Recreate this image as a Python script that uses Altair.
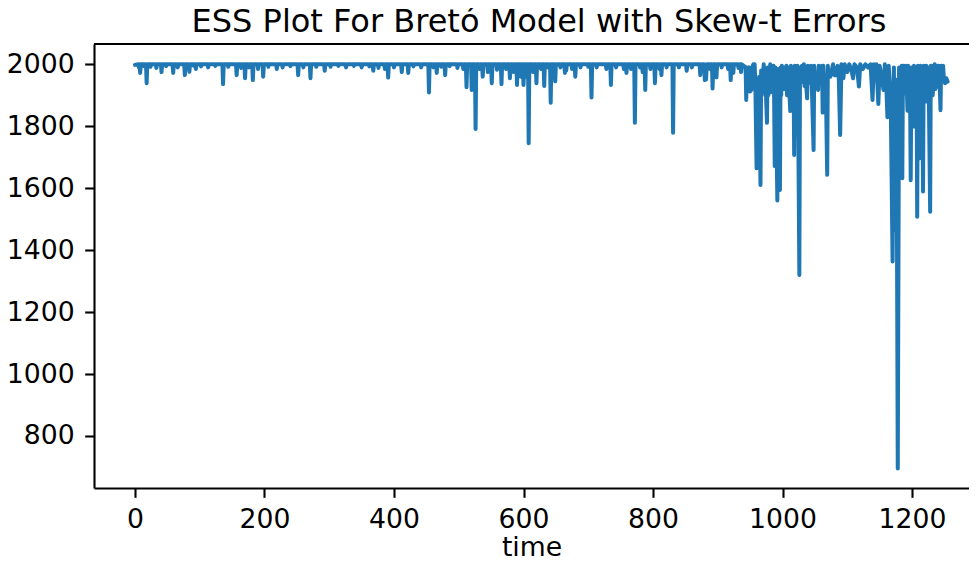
import altair as alt
import pandas as pd

# (time, ESS) vertices of the line
seg_a = [
    (0, 1998), (5, 2000), (6, 1990), (7, 2000), (8, 1972), (9, 2000), (12, 2000), (13, 1995), (14, 2000),
    (17, 2000), (18, 1939), (19, 2000), (23, 2000), (24, 1992), (25, 2000), (32, 2000), (33, 1988), (34, 2000),
    (40, 2000), (41, 1975), (42, 2000), (47, 2000), (48, 1994), (49, 2000), (58, 2000), (59, 1972), (60, 2000),
    (65, 2000), (66, 1990), (67, 2000), (76, 2000), (77, 1965), (78, 2000), (83, 2000), (84, 1976), (85, 2000),
    (89, 2000), (90, 1996), (91, 2000), (93, 2000), (94, 1985), (95, 2000), (101, 2000), (102, 1993), (103, 2000),
    (112, 2000), (113, 1990), (114, 2000), (123, 2000), (124, 1995), (125, 2000), (135, 2000), (136, 1936),
    (137, 2000), (143, 2000), (144, 1992), (145, 2000), (156, 2000), (157, 1965), (158, 2000), (163, 2000),
    (164, 1988), (165, 2000), (169, 2000), (170, 1955), (171, 2000), (175, 2000), (176, 1990), (177, 2000),
    (181, 2000), (182, 1949), (183, 2000), (189, 2000), (190, 1985), (191, 2000), (197, 2000), (198, 1960),
    (199, 2000), (205, 2000), (206, 1992), (207, 2000), (218, 2000), (219, 1985), (220, 2000), (227, 2000),
    (228, 1990), (229, 2000), (239, 2000), (240, 1994), (241, 2000), (251, 2000), (252, 1965), (253, 2000),
    (259, 2000), (260, 1990), (261, 2000), (270, 2000), (271, 1955), (272, 2000), (279, 2000), (280, 1992),
    (281, 2000),
]
seg_b = [
    (292, 2000), (293, 1979), (294, 2000), (301, 2000), (302, 1992), (303, 2000), (313, 2000), (314, 1995),
    (315, 2000), (325, 2000), (326, 1990), (327, 2000), (337, 2000), (338, 1995), (339, 2000), (349, 2000),
    (350, 1990), (351, 2000), (361, 2000), (362, 1993), (363, 2000), (367, 2000), (368, 1979), (369, 2000),
    (375, 2000), (376, 1988), (377, 2000), (385, 2000), (386, 1985), (387, 2000), (390, 2000), (391, 1957),
    (392, 2000), (399, 2000), (400, 1990), (401, 2000), (411, 2000), (412, 1975), (413, 2000), (421, 2000),
    (422, 1972), (423, 2000), (429, 2000), (430, 1993), (431, 2000), (441, 2000), (442, 1990), (443, 2000),
    (453, 2000), (454, 1909), (455, 2000), (460, 2000), (461, 1990), (462, 2000), (465, 2000), (466, 1972),
    (467, 2000), (472, 2000), (473, 1992), (474, 2000), (478, 2000), (479, 1965), (480, 2000), (485, 2000),
    (486, 1994), (487, 2000), (497, 2000), (498, 1988), (499, 2000), (506, 2000), (507, 1985), (508, 2000),
    (511, 2000), (512, 1926), (513, 2000), (519, 2000), (520, 1917), (521, 2000), (525, 2000), (526, 1791),
    (527, 2000), (531, 2000), (532, 1985), (533, 2000), (536, 2000), (537, 1960), (538, 2000), (544, 2000),
    (545, 1975), (546, 2000), (550, 2000), (551, 1939), (552, 2000), (558, 2000), (559, 1982), (560, 2000),
    (565, 2000), (566, 1936), (567, 2000), (572, 2000), (573, 1985), (574, 2000), (578, 2000), (579, 1955),
    (580, 2000), (584, 2000), (585, 1975), (586, 2000), (589, 2000), (590, 1933), (591, 2000), (595, 2000),
    (596, 1960), (597, 2000), (599, 2000), (600, 1933), (601, 2000), (604, 2000), (605, 1960), (606, 2000),
    (607, 2000), (608, 1745), (609, 2000), (614, 2000), (615, 1975), (616, 2000), (619, 2000), (620, 1939),
    (621, 2000),
]
seg_c = [
    (626, 2000), (627, 1985), (628, 2000), (631, 2000), (632, 1930), (633, 2000), (637, 2000), (638, 1990),
    (639, 2000), (641, 2000), (642, 1876), (643, 2000), (648, 2000), (649, 1945), (650, 2000), (656, 2000),
    (657, 1990), (658, 2000), (663, 2000), (664, 1972), (665, 2000), (666, 1980), (667, 2000), (674, 2000),
    (675, 1985), (676, 2000), (679, 2000), (680, 1960), (681, 2000), (687, 2000), (688, 1990), (689, 2000),
    (699, 2000), (700, 1992), (701, 2000), (704, 2000), (705, 1893), (706, 2000), (712, 2000), (713, 1990),
    (714, 2000), (727, 2000), (728, 1985), (729, 2000), (734, 2000), (735, 1933), (736, 2000), (742, 2000),
    (743, 1990), (744, 2000), (754, 2000), (755, 1985), (756, 2000), (758, 2000), (759, 1972), (760, 2000),
    (765, 2000), (766, 1985), (767, 2000), (771, 2000), (772, 1811), (773, 2000), (779, 2000), (780, 1990),
    (781, 2000), (783, 2000), (784, 1975), (785, 2000), (787, 2000), (788, 1917), (789, 2000), (795, 2000),
    (796, 1985), (797, 2000), (802, 2000), (803, 1939), (804, 2000), (809, 2000), (810, 1985), (811, 2000),
    (812, 2000), (813, 1965), (814, 2000), (820, 2000), (821, 1990), (822, 2000), (830, 2000), (831, 1779),
    (832, 2000), (839, 2000), (840, 1990), (841, 2000), (851, 2000), (852, 1979), (853, 2000), (859, 2000),
    (860, 1990), (861, 2000), (872, 2000), (873, 1965), (874, 2000), (875, 1990), (876, 2000), (879, 2000),
    (880, 1949), (881, 1990), (882, 1951), (883, 2000), (887, 2000), (888, 1985), (889, 2000), (891, 2000),
    (892, 1922), (893, 2000), (897, 2000), (898, 1958), (899, 2000), (905, 2000), (906, 1990), (907, 2000),
    (915, 2000), (916, 1985), (917, 2000), (919, 2000), (920, 1949), (921, 2000), (923, 2000), (924, 1972),
    (925, 2000), (931, 2000), (932, 1988), (933, 2000), (935, 2000), (936, 1975), (937, 2000), (940, 1995),
    (943, 1990), (944, 1885), (945, 1990), (946, 1960), (948, 1990), (950, 1912), (951, 1970), (952, 1917),
    (953, 1990), (955, 2000), (957, 2000),
]
time_late = [
    958, 960, 961, 962, 964, 966, 967, 968, 970, 971, 972, 974, 976, 977, 978, 980, 981, 982, 983, 984, 986, 987,
    988, 989, 990, 992, 993, 994, 996, 997, 998, 999, 1001, 1002, 1003, 1005, 1006, 1007, 1009, 1010, 1012, 1013,
    1014, 1016, 1017, 1018, 1019, 1020, 1022, 1023, 1024, 1026, 1027, 1028, 1030, 1031, 1033, 1034, 1036, 1038,
    1039, 1040, 1043, 1044, 1045, 1048, 1049, 1050, 1052, 1053, 1055, 1056, 1057, 1060, 1061, 1062, 1063, 1064,
    1067, 1069, 1070, 1071, 1074, 1076, 1078, 1080, 1082, 1085, 1087, 1089, 1091, 1094, 1096, 1100, 1103, 1106,
    1109, 1111, 1115, 1118, 1120, 1124, 1128, 1132, 1136,
    1139, 1141, 1143, 1145, 1148, 1150, 1153, 1156, 1158, 1160, 1162, 1164, 1167, 1170, 1172, 1174, 1176, 1178,
    1180, 1181, 1182, 1184, 1185, 1186, 1187, 1189, 1190, 1191, 1193, 1194, 1195, 1197, 1198, 1199, 1200, 1202,
    1203, 1204, 1206, 1207, 1208, 1209, 1210, 1212, 1213, 1214, 1216, 1217, 1218, 1219, 1221, 1222, 1223, 1225,
    1226, 1228, 1229, 1230, 1232, 1233, 1235, 1236, 1238, 1240, 1241, 1243, 1244, 1245, 1246, 1248, 1249, 1251,
    1253, 1255,
]
ess_late = [
    1940, 1664, 1950, 1900, 1960, 1610, 1980, 1900, 1965, 2000, 1920, 1930, 1811, 1990, 1900, 1950, 2000, 1910,
    1995, 1960, 1995, 1900, 1672, 1990, 1880, 1560, 1985, 1900, 1594, 1990, 1900, 1995, 1928, 1990, 1920, 1950,
    1995, 1900, 1990, 1930, 1849, 1995, 1920, 1900, 1990, 1707, 1995, 1930, 1950, 1995, 1900, 1320, 1990, 1940,
    1995, 1960, 2000, 1930, 1950, 1890, 1995, 1960, 1940, 1995, 1950, 1723, 1995, 1960, 1940, 1960, 1917, 1995,
    1960, 1950, 1995, 1844, 1995, 1960, 1920, 1643, 1995, 1960, 1960, 1979, 2000, 1965, 1965, 1995, 1950, 1772,
    2000, 1955, 2000, 1975, 2000, 1985, 1955, 2000, 1990, 1928, 2000, 1985, 2000, 1990, 2000,
    1885, 2000, 1955, 2000, 1872, 1995, 1960, 1917, 2000, 1950, 1829, 1995, 1900, 1363, 1990, 1465, 1950, 695,
    1990, 1900, 1930, 1995, 1632, 1990, 1995, 1906, 1995, 1990, 1850, 1995, 1970, 1900, 1626, 1990, 1920, 1799,
    1995, 1980, 1870, 1990, 1508, 1995, 1985, 1697, 1995, 1970, 1900, 1589, 1995, 1990, 1880, 1995, 1912, 1990,
    1900, 1524, 1995, 1995, 1900, 1945, 2000, 1920, 1930, 1995, 1995, 1920, 1852, 1995, 1990, 1995, 1960, 1939,
    1955, 1944,
]

x_ticks = [0, 200, 400, 600, 800, 1000, 1200]
y_ticks = [800, 1000, 1200, 1400, 1600, 1800, 2000]
chart_title = "ESS Plot For Bretó Model with Skew-t Errors"

early = seg_a + seg_b + seg_c
df = pd.DataFrame({
    "time": [p[0] for p in early] + time_late,
    "ess": [p[1] for p in early] + ess_late,
})

FONT = "DejaVu Sans"
LBL = 26.67

line = alt.Chart(df).mark_line(color="#1f77b4", strokeWidth=4, strokeJoin="round", strokeCap="round").encode(
    x=alt.X("time:Q", scale=alt.Scale(domain=[-63.3, 1288], nice=False, zero=False),
            axis=alt.Axis(values=x_ticks, format="d", title="time", grid=False, labelFont=FONT, labelFontSize=LBL,
                          titleFont=FONT, titleFontSize=LBL, titleFontWeight="normal", titleColor="black",
                          labelColor="black", domainColor="black", domainWidth=2.1, tickColor="black",
                          tickWidth=2.1, tickSize=9.3, labelPadding=9, titlePadding=2, labelFlush=False)),
    y=alt.Y("ess:Q", scale=alt.Scale(domain=[632, 2065.5], nice=False, zero=False),
            axis=alt.Axis(values=y_ticks, format="d", title=None, grid=False, labelFont=FONT, labelFontSize=LBL,
                          labelColor="black", domainColor="black", domainWidth=2.1, tickColor="black",
                          tickWidth=2.1, tickSize=9.3, labelPadding=10.5, labelFlush=False)),
)

top = alt.Chart(pd.DataFrame({"a": [0]})).mark_rule(color="black", strokeWidth=2.1).encode(
    y=alt.value(0), x=alt.value(0), x2=alt.value(875)
)

title = alt.Chart(pd.DataFrame({"label": [chart_title]})).mark_text(
    font=FONT, fontSize=32, color="black", align="center", baseline="alphabetic"
).encode(text="label:N", x=alt.value(445), y=alt.value(-12))

chart = alt.layer(line, top, title).properties(
    width=875,
    height=444,
    autosize=alt.AutoSizeParams(type="none"),
    padding={"left": 86, "top": 36, "right": 0, "bottom": 75},
).configure_view(stroke=None)

chart.save("out.html", embed_options={"renderer": "svg", "actions": False})
